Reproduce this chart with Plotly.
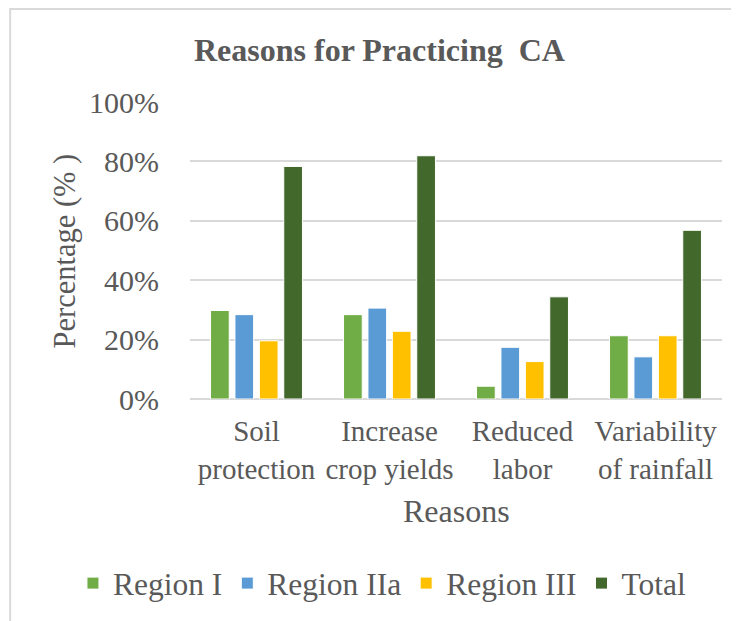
import plotly.graph_objects as go

# data (percent)
reasons = ["Soil<br>protection", "Increase<br>crop yields", "Reduced<br>labor", "Variability<br>of rainfall"]
region_1 = [29.8, 28.4, 4.3, 21.3]
region_2a = [28.4, 30.6, 17.4, 14.2]
region_3 = [19.6, 22.8, 12.6, 21.3]
total = [78.3, 81.9, 34.4, 56.8]

series = [
    ("Region I", region_1, "#70AD47"),
    ("Region IIa", region_2a, "#5B9BD5"),
    ("Region III", region_3, "#FFC000"),
    ("Total", total, "#43682B"),
]

FONT = "Liberation Serif, Times New Roman, serif"
TXT = "#595959"

fig = go.Figure()
for name, vals, col in series:
    fig.add_trace(go.Bar(
        x=reasons, y=[v / 100 for v in vals], name=name,
        marker={"color": col, "line": {"color": "white", "width": 1}},
    ))

# page body adds an 8px offset, so margins are shifted by 8
fig.update_layout(
    width=739, height=621,
    margin={"l": 182, "r": 25, "t": 94, "b": 230, "autoexpand": False},
    paper_bgcolor="white", plot_bgcolor="white",
    font={"family": FONT, "color": TXT, "size": 29},
    barmode="group", bargap=0.266, bargroupgap=0.234,
    showlegend=True,
    legend={"orientation": "h", "x": -0.22, "xanchor": "left", "y": -0.62, "yanchor": "middle",
            "font": {"size": 31.5}, "traceorder": "normal"},
    xaxis={"showgrid": False, "showline": False, "ticks": "", "tickfont": {"size": 29},
           "ticklabelstandoff": 12, "automargin": False},
    yaxis={"range": [0, 1], "dtick": 0.2, "tickformat": ".0%", "gridcolor": "#D9D9D9",
           "gridwidth": 1.5, "zeroline": True, "zerolinecolor": "#D9D9D9", "zerolinewidth": 1.5,
           "showline": False, "ticks": "", "tickfont": {"size": 30}, "ticklabelstandoff": 30,
           "automargin": False},
    annotations=[
        dict(text="<b>Reasons for Practicing  CA</b>", x=0.357, y=1.175, xref="paper", yref="paper",
             xanchor="center", yanchor="middle", showarrow=False, font={"size": 32, "color": TXT}),
        dict(text="Percentage (% )", x=-0.235, y=0.5, xref="paper", yref="paper", textangle=-90,
             xanchor="center", yanchor="middle", showarrow=False, font={"size": 30.5, "color": TXT}),
        dict(text="Reasons", x=0.5, y=-0.377, xref="paper", yref="paper",
             xanchor="center", yanchor="middle", showarrow=False, font={"size": 32, "color": TXT}),
    ],
    shapes=[dict(type="rect", xref="paper", yref="paper", x0=-0.338, x1=1.2, y0=-0.9, y1=1.313,
                 line={"color": "#D9D9D9", "width": 2}, layer="below")],
)

fig.write_html("out.html")
